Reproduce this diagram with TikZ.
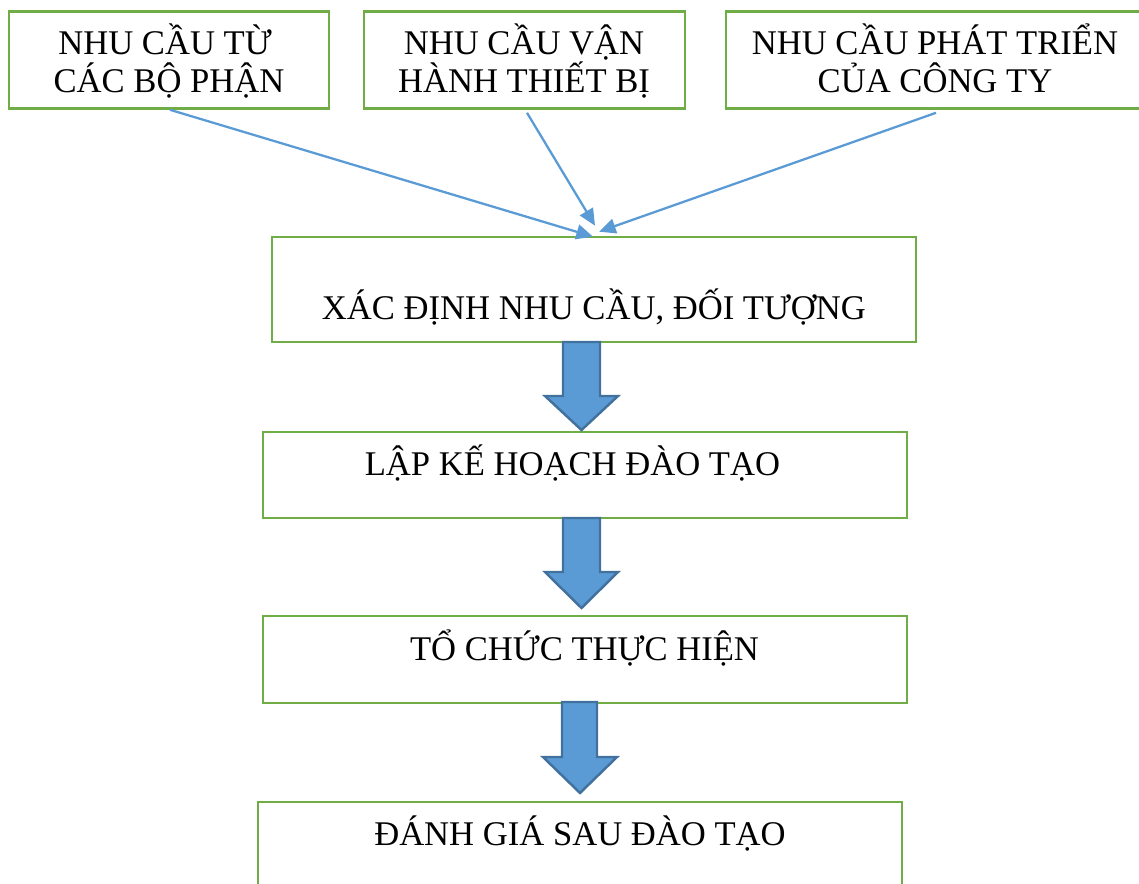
\documentclass[tikz,border=0pt]{standalone}
\usepackage{fontspec}
\setmainfont{Liberation Serif}
\usetikzlibrary{calc,arrows.meta}
\definecolor{boxgreen}{HTML}{70AD47}
\definecolor{linkblue}{HTML}{5B9BD5}
\definecolor{arrowedge}{HTML}{41719C}
\tikzset{
  box/.style={draw=boxgreen, line width=1.5pt, fill=none, inner sep=0pt},
  lbl/.style={anchor=base, inner sep=0pt, font=\fontsize{19.7}{21.5}\selectfont},
  link/.style={draw=linkblue, line width=1.3pt,
    -{Triangle[length=9.5pt, width=8.5pt]}},
  blockarrow/.style={fill=linkblue, draw=arrowedge, line width=1.4pt, line join=miter}
}
\begin{document}
\begin{tikzpicture}[x=0.02cm, y=-0.02cm]
\useasboundingbox (0,0) rectangle (1139,884);
\clip (0,0) rectangle (1139,884);

% source boxes
\node[box, minimum width=6.4cm, minimum height=1.94cm] (a) at (169,60) {};
\node[box, minimum width=6.42cm, minimum height=1.94cm] (b) at (524.5,60) {};
\node[box, minimum width=8.36cm, minimum height=1.94cm] (c) at (935,60) {};
\node[lbl] (a1) at (165,55) {NHU CẦU TỪ};
\node[lbl] (a2) at (169,93) {CÁC BỘ PHẬN};
\node[lbl] (b1) at (524,55) {NHU CẦU VẬN};
\node[lbl] (b2) at (524,93) {HÀNH THIẾT BỊ};
\node[lbl] (c1) at (935,55) {NHU CẦU PHÁT TRIỂN};
\node[lbl] (c2) at (935,93) {CỦA CÔNG TY};

% process steps
\node[box, minimum width=12.88cm, minimum height=2.1cm] (d) at (594,289.5) {};
\node[box, minimum width=12.88cm, minimum height=1.72cm] (e) at (585,475) {};
\node[box, minimum width=12.88cm, minimum height=1.74cm] (f) at (585,659.5) {};
\node[box, minimum width=12.88cm, minimum height=2.0cm] (g) at (580,852) {};
\node[lbl] (dt) at (594,320) {XÁC ĐỊNH NHU CẦU, ĐỐI TƯỢNG};
\node[lbl] (et) at (572.5,476) {LẬP KẾ HOẠCH ĐÀO TẠO};
\node[lbl] (ft) at (584.5,661) {TỔ CHỨC THỰC HIỆN};
\node[lbl] (gt) at (580,845) {ĐÁNH GIÁ SAU ĐÀO TẠO};

% inputs converging on the first step
\coordinate (ta) at ($(d.north)+(-1,1)$);
\coordinate (tb) at ($(d.north)+(1,-10)$);
\coordinate (tc) at ($(d.north)+(5,-4)$);
\draw[link] ($(a.south)+(1,0)$) -- (ta);
\draw[link] ($(b.south)+(2.5,3)$) -- (tb);
\draw[link] ($(c.south)+(1,3)$) -- (tc);

% block arrows between steps
\draw[blockarrow] (563,342) -- (600,342) -- (600,396) -- (618,396)
  -- (581.5,430) -- (545,396) -- (563,396) -- cycle;
\draw[blockarrow] (563,518) -- (600,518) -- (600,572) -- (618,572)
  -- (581.5,608) -- (545,572) -- (563,572) -- cycle;
\draw[blockarrow] (562,702) -- (597,702) -- (597,757) -- (617,757)
  -- (580,793) -- (543,757) -- (562,757) -- cycle;
\end{tikzpicture}
\end{document}
